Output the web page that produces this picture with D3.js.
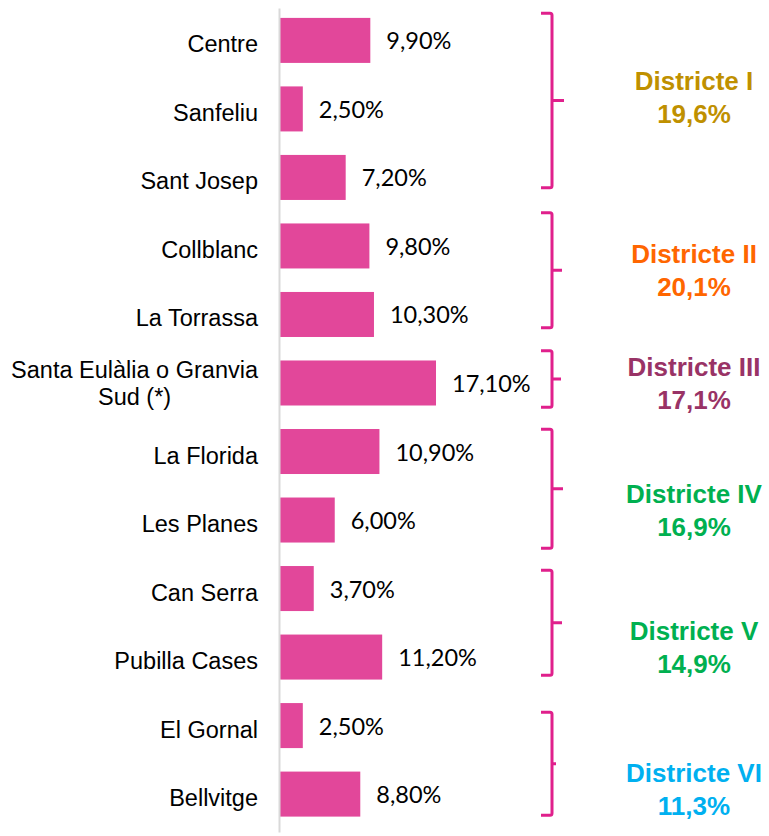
<!DOCTYPE html>
<html><head><meta charset="utf-8">
<script src="https://cdn.jsdelivr.net/npm/d3@7"></script>
<style>body{margin:0;background:#fff}svg{display:block}</style>
</head><body>
<svg id="c" width="769" height="836"></svg>
<script>
// ---- data ----
const categories = [["Centre"],["Sanfeliu"],["Sant Josep"],["Collblanc"],["La Torrassa"],
  ["Santa Eulàlia o Granvia","Sud (*)"],["La Florida"],["Les Planes"],["Can Serra"],["Pubilla Cases"],["El Gornal"],["Bellvitge"]];
const values = [9.9, 2.5, 7.2, 9.8, 10.3, 17.1, 10.9, 6.0, 3.7, 11.2, 2.5, 8.8];
const valueLabels = ["9,90%","2,50%","7,20%","9,80%","10,30%","17,10%","10,90%","6,00%","3,70%","11,20%","2,50%","8,80%"];
const districtNames = ["Districte I","Districte II","Districte III","Districte IV","Districte V","Districte VI"];
const districtValues = ["19,6%","20,1%","17,1%","16,9%","14,9%","11,3%"];
const districtStart = [0,3,5,6,8,10];
const districtEnd = [2,4,5,7,9,11];
const districtColors = ["#BF9000","#FF6600","#993366","#00B050","#00B050","#00B0F0"];

// ---- layout (pixels, not data) ----
const bracketTopOff = [7,1,2,12,16,21];
const bracketBotOff = [-24,-21,-10,-6,-16,-13];
const textDy = [-19,-17,-7,17.5,17.5,22.5];
const tickLen = [12,10,9,11,10,4];

const svg = d3.select("#c");
const y = d3.scaleBand().domain(d3.range(categories.length)).range([6.25, 828.25]).paddingInner(0.343).paddingOuter(0.17);
const step = y.step();
const x = d3.scaleLinear().domain([0, 20]).range([280, 280 + 182.46]);
const barColor = "#E2479A";

// bars
svg.append("g").selectAll("rect").data(values).join("rect")
  .attr("x", x(0)).attr("y", (d,i)=>y(i)).attr("width", d=>x(d)-x(0)).attr("height", y.bandwidth())
  .attr("fill", barColor);

// axis line
const ax = d3.axisLeft(d3.scaleLinear().range([8, 832])).ticks(0).tickSize(0);
svg.append("g").attr("transform","translate(279,0)").call(ax)
  .call(g=>g.select(".domain").attr("stroke","#d9d9d9").attr("stroke-width",2));

// value labels
svg.append("g").selectAll("text").data(values).join("text")
  .attr("x", d=>x(d)+16).attr("y", (d,i)=>y(i)+y.bandwidth()/2+9)
  .attr("font-family","Lato, 'Open Sans', sans-serif").attr("font-size",23.5).attr("fill","#000")
  .text((d,i)=>valueLabels[i]);

// category labels
const cl = svg.append("g").selectAll("text").data(categories).join("text")
  .attr("text-anchor","end").attr("font-family","'Liberation Sans', Arial, sans-serif")
  .attr("font-size",23.5).attr("fill","#000");
cl.each(function(lines,i){
  const c = y(i)+y.bandwidth()/2;
  const t = d3.select(this);
  if(lines.length===1){
    t.append("tspan").attr("x",258).attr("y",c+12).text(lines[0]);
  } else {
    t.append("tspan").attr("x",258).attr("y",c-5).text(lines[0]);
    t.append("tspan").attr("x",229).attr("y",c+22).text(lines[1]);
  }
});
// center second line under first
cl.filter(d=>d.length>1).each(function(){
  const ts = d3.select(this).selectAll("tspan").nodes();
  const w0 = ts[0].getComputedTextLength();
  const cx = 258 - w0/2;
  d3.select(ts[1]).attr("text-anchor","middle").attr("x",cx);
  d3.select(ts[0]).attr("text-anchor","end");
});

// brackets and district labels
const bx = 552, hook = 11;
const dg = svg.append("g");
districtNames.forEach((name,k)=>{
  const top = y(districtStart[k]) - y.step()*y.paddingInner()/2 + bracketTopOff[k];
  const bot = y(districtEnd[k]) + y.bandwidth() + y.step()*y.paddingInner()/2 + bracketBotOff[k];
  const mid = (top+bot)/2;
  const p = d3.path();
  p.moveTo(bx-hook, top);
  p.lineTo(bx-2, top);
  p.quadraticCurveTo(bx, top, bx, top+2);
  p.lineTo(bx, bot-2);
  p.quadraticCurveTo(bx, bot, bx-2, bot);
  p.lineTo(bx-hook, bot);
  p.moveTo(bx, mid);
  p.lineTo(bx+tickLen[k], mid);
  dg.append("path").attr("d", p.toString()).attr("fill","none")
    .attr("stroke","#E0208C").attr("stroke-width",3);
  const gc = (y(districtStart[k]) + y(districtEnd[k]) + y.bandwidth())/2;
  const t = dg.append("text").attr("text-anchor","middle")
    .attr("font-family","'Liberation Sans', Arial, sans-serif").attr("font-weight","bold")
    .attr("font-size",26).attr("fill",districtColors[k]);
  t.append("tspan").attr("x",694).attr("y",gc+textDy[k]).text(name);
  t.append("tspan").attr("x",694).attr("y",gc+textDy[k]+33).text(districtValues[k]);
});
</script>
</body></html>
